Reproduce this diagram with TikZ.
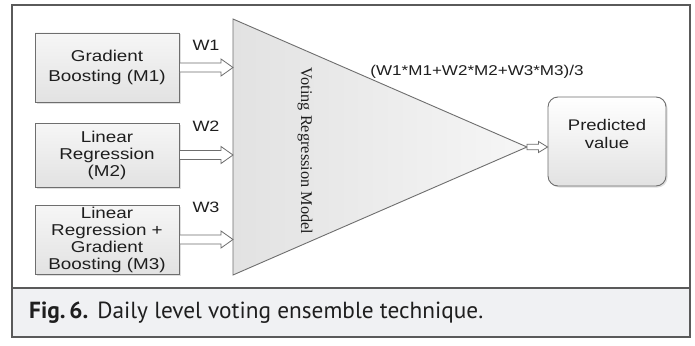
\documentclass[tikz,border=0pt]{standalone}
\usepackage{fontspec}
\setmainfont{Liberation Sans}[FakeStretch=1.2]
\newfontfamily\modelfont{Liberation Serif}
\newfontfamily\capfont{PT Sans}
\usetikzlibrary{shadows,calc}
\definecolor{framegray}{HTML}{5A5A5A}
\definecolor{edgegray}{HTML}{6E6E6E}
\definecolor{inkgray}{HTML}{1E1E1E}
\definecolor{capband}{HTML}{F0F1F3}
\definecolor{boxtop}{HTML}{F6F6F6}
\definecolor{boxbot}{HTML}{E2E2E2}
\tikzset{
  modelbox/.style={draw=edgegray, line width=0.9pt, top color=boxtop, bottom color=boxbot,
    minimum width=144pt, align=center, text=inkgray, inner sep=0pt,
    drop shadow={shadow xshift=1.5pt, shadow yshift=-1.5pt, opacity=0.25},
    font=\fontsize{15.7}{17}\selectfont},
  outbox/.style={draw=edgegray, line width=0.9pt, rounded corners=10pt, top color=white,
    bottom color=boxbot, minimum width=118pt, minimum height=89pt,
    drop shadow={shadow xshift=1.5pt, shadow yshift=-1.5pt, opacity=0.25}},
  wlabel/.style={text=inkgray, font=\fontsize{15}{17}\selectfont, inner sep=0pt},
  harrow/.style={draw=edgegray, line width=0.8pt, fill=white, line join=miter},
}
% hollow block arrow from #1 to #2: half shaft #3, half head #4, head length #5
\newcommand{\blockarrow}[5]{%
  \draw[harrow] let \p1=(#1), \p2=(#2) in
    (\x1,\y1+#3) -- (\x2-#5,\y1+#3) -- (\x2-#5,\y1+#4) -- (\x2,\y1)
    -- (\x2-#5,\y1-#4) -- (\x2-#5,\y1-#3) -- (\x1,\y1-#3) -- cycle;}
\begin{document}
\begin{tikzpicture}[x=1pt,y=-1pt]
\useasboundingbox (0,0) rectangle (695,345);
% outer frame and caption band
\fill[white] (12,5) rectangle (690,337);
\fill[capband] (12,288) rectangle (690,337);
\draw[framegray, line width=1.3pt] (12,5) rectangle (690,337);
\draw[framegray, line width=1.3pt] (12,288) -- (690,288);

% model boxes
\node[modelbox, minimum height=69pt, font=\fontsize{15.7}{20}\selectfont] (m1) at (107,67.5) {Gradient\\Boosting (M1)};
\node[modelbox, minimum height=64pt] (m2) at (107,155) {Linear\\Regression\\(M2)};
\node[modelbox, minimum height=69pt] (m3) at (107,239.5) {Linear\\Regression +\\Gradient\\Boosting (M3)};

% voting triangle
\coordinate (ttop) at (233,19);
\coordinate (tbot) at (233,275);
\coordinate (tip) at (527,147);
\draw[edgegray, line width=0.9pt, left color=boxbot, right color=boxtop] (ttop) -- (tip) -- (tbot) -- cycle;
\node[rotate=-90, text=inkgray, font=\modelfont\fontsize{16.3}{18}\selectfont] (vrm) at (305,151) {Voting Regression Model};

% weight inputs
\coordinate (in1) at (ttop |- m1.east);
\coordinate (in2) at (ttop |- m2.east);
\coordinate (in3) at (ttop |- m3.east);
\blockarrow{m1.east}{in1}{4.5}{8.5}{12}
\blockarrow{m2.east}{in2}{4.5}{8.5}{12}
\blockarrow{m3.east}{in3}{4.5}{8.5}{12}
\node[wlabel] (w1) at (206,45.5) {W1};
\node[wlabel] (w2) at (206,126) {W2};
\node[wlabel] (w3) at (206,207.5) {W3};

% combined output
\node[wlabel, font=\fontsize{14.2}{16}\selectfont] (formula) at (477,72) {(W1*M1+W2*M2+W3*M3)/3};
\node[outbox] (pv) at (607,141.5) {};
\node[text=inkgray, align=center, inner sep=0pt, font=\fontsize{15.4}{18}\selectfont] (pvtext) at ($(pv.center)+(0,-7.5)$) {Predicted\\value};
\coordinate (pvin) at (pv.west |- tip);
\blockarrow{tip}{pvin}{2.8}{5.5}{9}

% caption
\node[anchor=base west, inner sep=0pt, text=inkgray, font=\capfont\fontsize{23.3}{28}\selectfont] (cap) at (29,318)
  {\textbf{Fig.\,6.}\hspace{9pt}Daily level voting ensemble technique.};
\end{tikzpicture}
\end{document}
